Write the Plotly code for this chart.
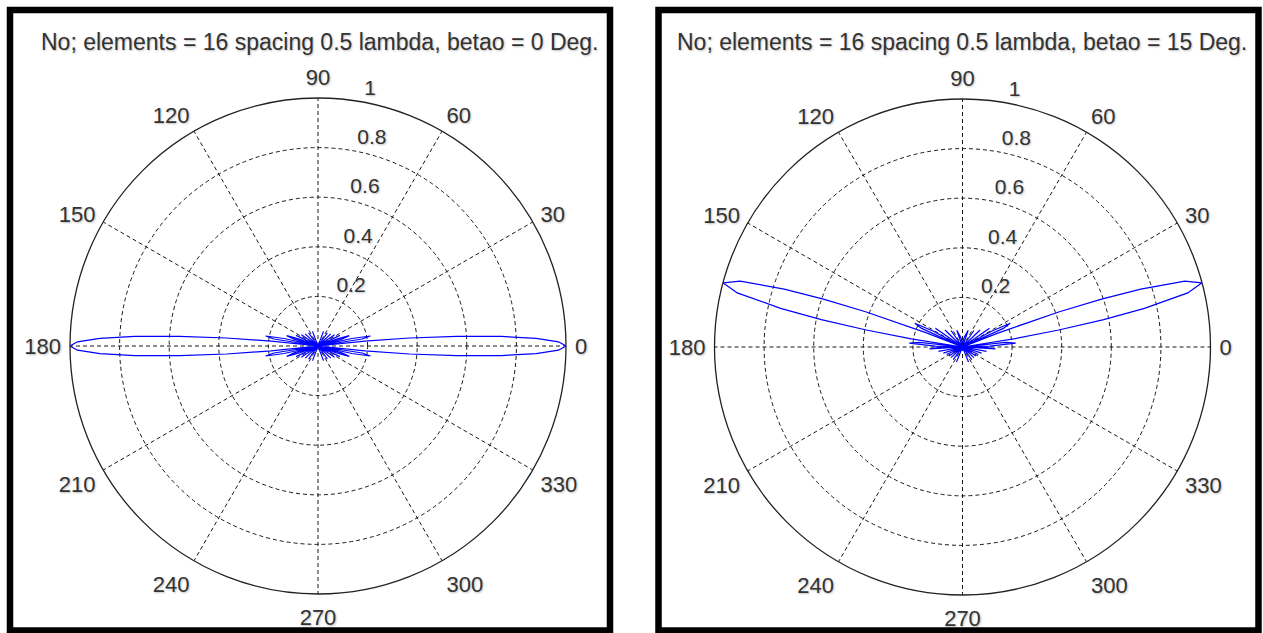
import plotly.graph_objects as go

# ---------------- data ----------------
titles = [
    "No; elements = 16 spacing 0.5 lambda, betao = 0 Deg.",
    "No; elements = 16 spacing 0.5 lambda, betao = 15 Deg.",
]

angle_ticks = [0, 30, 60, 90, 120, 150, 180, 210, 240, 270, 300, 330]
angle_labels = ["0", "30", "60", "90", "120", "150", "180", "210", "240", "270", "300", "330"]
radial_ticks = [0.2, 0.4, 0.6, 0.8, 1.0]
radial_labels = ["0.2", "0.4", "0.6", "0.8", "1"]

# left pattern, betao = 0 deg
theta_b0 = [
    0, 1, 2, 3, 4, 5, 6, 7.2, 9, 10.8, 12.5, 14.5, 16.2, 18.2, 20.2, 22, 26, 30, 34.2, 38.7, 43.4, 48.6, 54.3, 61, 69.6, 90,
    110.4, 119, 125.7, 131.4, 136.6, 141.3, 145.8, 150, 154, 158, 159.8, 161.8, 163.8, 165.5, 167.5, 169.2, 171, 172.8,
    174, 175, 176, 177, 178, 179, 180,
    181, 182, 183, 184, 185, 186, 187.2, 189, 190.8, 192.5, 194.5, 196.2, 198.2, 200.2, 202, 206, 210, 214.2, 218.7,
    223.4, 228.6, 234.3, 241, 249.6, 270,
    290.4, 299, 305.7, 311.4, 316.6, 321.3, 325.8, 330, 334, 338, 339.8, 341.8, 343.8, 345.5, 347.5, 349.2, 351, 352.8,
    354, 355, 356, 357, 358, 359, 360,
]
r_b0 = [
    1.0, 0.97, 0.88, 0.74, 0.56, 0.37, 0.19, 0.0, 0.18, 0.215, 0.14, 0.0, 0.10, 0.133, 0.08, 0.0, 0.098, 0.0, 0.081, 0.0, 0.071, 0.0, 0.065, 0.0, 0.063, 0.0,
    0.063, 0.0, 0.065, 0.0, 0.071, 0.0, 0.081, 0.0, 0.098, 0.0, 0.08, 0.133, 0.10, 0.0, 0.14, 0.215, 0.18, 0.0,
    0.19, 0.37, 0.56, 0.74, 0.88, 0.97, 1.0,
    0.97, 0.88, 0.74, 0.56, 0.37, 0.19, 0.0, 0.18, 0.215, 0.14, 0.0, 0.10, 0.133, 0.08, 0.0, 0.098, 0.0, 0.081, 0.0,
    0.071, 0.0, 0.065, 0.0, 0.063, 0.0,
    0.063, 0.0, 0.065, 0.0, 0.071, 0.0, 0.081, 0.0, 0.098, 0.0, 0.08, 0.133, 0.10, 0.0, 0.14, 0.215, 0.18, 0.0,
    0.19, 0.37, 0.56, 0.74, 0.88, 0.97, 1.0,
]

# right pattern, betao = 15 deg
theta_b15 = [
    0, 0.5, 2, 4.1, 6, 7.7, 9, 10, 11, 12, 13.5, 15, 16.5, 18, 19, 20, 21.5, 22.6, 24.5, 26.5, 28.5, 30.6, 34.8, 39.3,
    44.1, 49.4, 55.2, 62.1, 71.1, 80, 90,
    100, 108.9, 117.9, 124.8, 130.6, 135.9, 140.7, 145.2, 149.4, 151.5, 153.5, 155.5, 157.4, 158.5, 160, 161, 162, 163.5,
    165, 166.5, 168, 169, 170, 171, 172.3, 174, 175.9, 178, 179.5, 180,
    181, 183.1, 186.7, 190.3, 194, 197.7, 201.5, 205.4, 209.4, 213.6, 218, 222.7, 227.8, 233.5, 240, 248.2, 262.4, 270,
    277.6, 291.8, 300, 306.5, 312.2, 317.3, 322, 326.4, 330.6, 334.6, 338.5, 342.3, 346, 349.7, 353.3, 356.9, 359, 360,
]
r_b15 = [
    0.035, 0.0, 0.111, 0.215, 0.175, 0.0, 0.209, 0.394, 0.58, 0.75, 0.934, 1.0, 0.935, 0.756, 0.593, 0.416, 0.156, 0.0, 0.181, 0.215, 0.133, 0.0, 0.133, 0.0,
    0.0985, 0.0, 0.081, 0.0, 0.071, 0.039, 0.015,
    0.039, 0.071, 0.0, 0.081, 0.0, 0.0985, 0.0, 0.133, 0.0, 0.133, 0.215, 0.181, 0.0, 0.156, 0.416, 0.593, 0.756, 0.935,
    1.0, 0.934, 0.75, 0.58, 0.394, 0.209, 0.0, 0.175, 0.215, 0.111, 0.0, 0.035,
    0.091, 0.133, 0.0, 0.0985, 0.0, 0.081, 0.0, 0.071, 0.0, 0.065, 0.0, 0.063, 0.0, 0.063, 0.0, 0.065, 0.0, 0.015,
    0.0, 0.065, 0.0, 0.063, 0.0, 0.063, 0.0, 0.065, 0.0, 0.071, 0.0, 0.081, 0.0, 0.0985, 0.0, 0.133, 0.091, 0.035,
]

# ---------------- styling ----------------
W, H = 1263, 633
FONT = "Liberation Sans, Arial, Helvetica, sans-serif"
TXT = "#333333"
SHADOW = "1px 1px 2px rgba(0,0,0,0.25)"
GRID = "#1a1a1a"
LINE_BLUE = "#0000ff"
NBSP = "\u00a0\u00a0"


def polar_cfg(cx, cy, rad):
    x0, x1, y0, y1 = cx - rad, cx + rad, cy - rad, cy + rad
    return dict(
        domain=dict(x=[x0 / W, x1 / W], y=[1 - y1 / H, 1 - y0 / H]),
        bgcolor="white",
        radialaxis=dict(
            range=[0, 1], tickvals=radial_ticks, showticklabels=False, ticks="",
            showline=False, gridcolor=GRID, griddash="4px,3px", gridwidth=1.1,
        ),
        angularaxis=dict(
            tickmode="array", tickvals=angle_ticks, ticktext=angle_labels,
            direction="counterclockwise", rotation=0,
            showline=True, linecolor="#222222", linewidth=1.3,
            gridcolor=GRID, griddash="4px,3px", gridwidth=1.1,
            ticks="outside", ticklen=4, tickcolor="rgba(0,0,0,0)",
            tickfont=dict(family=FONT, size=22, color=TXT, shadow=SHADOW),
        ),
    )


fig = go.Figure()

for i, (th, rr) in enumerate([(theta_b0, r_b0), (theta_b15, r_b15)]):
    sub = "polar" if i == 0 else "polar2"
    fig.add_trace(go.Scatterpolar(
        r=rr, theta=th, mode="lines", subplot=sub, cliponaxis=False,
        line=dict(color=LINE_BLUE, width=1.2), showlegend=False, hoverinfo="skip",
    ))
    fig.add_trace(go.Scatterpolar(
        r=radial_ticks, theta=[82] * len(radial_ticks), mode="text", subplot=sub,
        text=[NBSP + t for t in radial_labels], textposition="top right", cliponaxis=False,
        textfont=dict(family=FONT, size=21, color=TXT, shadow=SHADOW),
        showlegend=False, hoverinfo="skip",
    ))

fig.update_layout(
    width=W, height=H,
    margin=dict(l=0, r=0, t=0, b=0),
    paper_bgcolor="white",
    polar=polar_cfg(318, 346, 248),
    polar2=polar_cfg(962.5, 347, 248),
    showlegend=False,
    annotations=[
        dict(text=titles[0], x=319 / W, y=1 - 42 / H, xref="paper", yref="paper",
             xanchor="center", yanchor="middle", showarrow=False,
             font=dict(family=FONT, size=23, color=TXT, shadow=SHADOW)),
        dict(text=titles[1], x=962 / W, y=1 - 42 / H, xref="paper", yref="paper",
             xanchor="center", yanchor="middle", showarrow=False,
             font=dict(family=FONT, size=23, color=TXT, shadow=SHADOW)),
    ],
    shapes=[
        dict(type="rect", xref="paper", yref="paper", x0=10 / W, x1=610 / W,
             y0=1 - 630.5 / H, y1=1 - 10 / H, line=dict(color="black", width=6.5)),
        dict(type="rect", xref="paper", yref="paper", x0=658.5 / W, x1=1258.5 / W,
             y0=1 - 630.5 / H, y1=1 - 10 / H, line=dict(color="black", width=6.5)),
    ],
)

fig.write_html("out.html", config={"displayModeBar": False},
               post_script="document.body.style.margin='0';")
